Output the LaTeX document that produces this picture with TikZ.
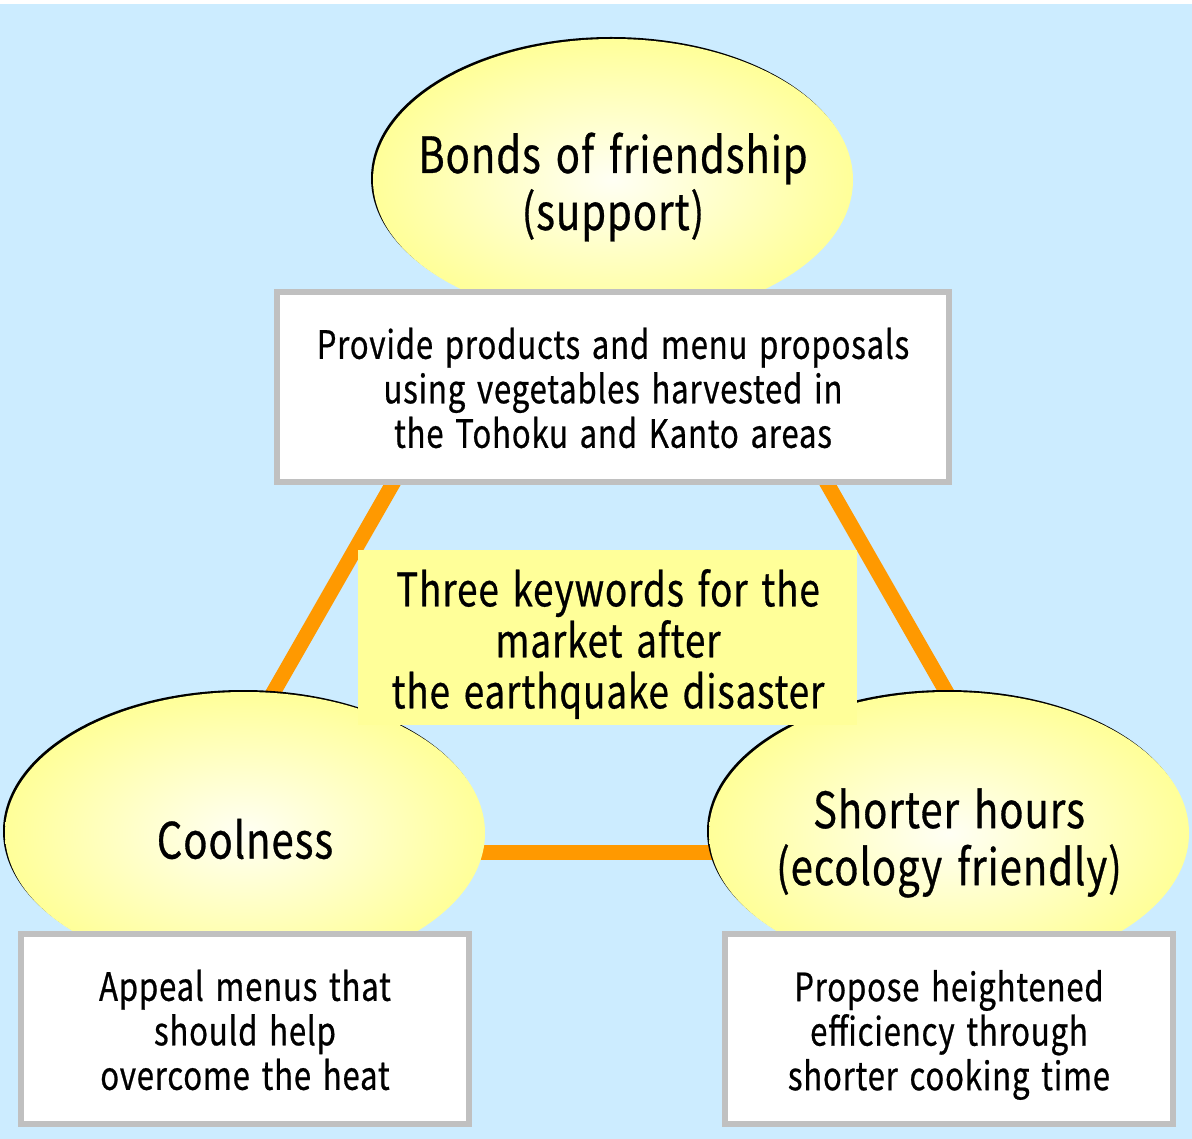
\documentclass[tikz,border=0pt]{standalone}
\usepackage{fontspec}
\setmainfont{Noto Sans CJK JP}[FakeStretch=0.8, LetterSpace=2, WordSpace=1.5, FakeBold=0.6]
\usetikzlibrary{shapes.geometric}
\definecolor{skyback}{HTML}{CCECFF}
\definecolor{keyyellow}{HTML}{FFFF99}
\definecolor{keycore}{HTML}{FFFFF4}
\definecolor{linkorange}{HTML}{FF9900}
\definecolor{boxgray}{HTML}{C0C0C0}
\tikzset{
  keyword/.style={ellipse, inner sep=0pt, minimum width=480pt, minimum height=282pt,
    shading=radial, inner color=keycore, outer color=keyyellow},
  keyshadow/.style={ellipse, inner sep=0pt, minimum width=480pt, minimum height=282pt,
    fill=black},
  keytext/.style={align=center, inner sep=0pt, font=\fontsize{50}{57}\selectfont},
  notebox/.style={rectangle, draw=boxgray, line width=6pt, fill=white, inner sep=0pt,
    minimum height=190pt},
  notetext/.style={align=center, inner sep=0pt, font=\fontsize{39}{44.5}\selectfont},
  link/.style={draw=linkorange, line width=15pt},
  centrebox/.style={rectangle, fill=keyyellow, inner sep=0pt,
    minimum width=499pt, minimum height=175pt},
  centretext/.style={align=center, inner sep=0pt, font=\fontsize{46}{51}\selectfont}
}
\begin{document}
\begin{tikzpicture}[x=1pt,y=-1pt]
  \useasboundingbox (0,0) rectangle (1192,1139);
  \fill[white] (0,0) rectangle (1192,1139);
  \fill[skyback] (0,4) rectangle (1192,1139);

  % triangle joining the three keywords
  \coordinate (apex) at (610,104);
  \coordinate (baseL) at (182,852);
  \coordinate (baseR) at (1038,852);
  \draw[link] (apex) -- (baseL);
  \draw[link] (apex) -- (baseR);
  \draw[link] (baseL) -- (baseR);

  % keyword ellipses with a thin dark edge on the upper left
  \node[keyshadow] (bondsshadow) at (611,178) {};
  \node[keyword] (bonds) at (613,180) {};
  \node[keytext] (bondslabel) at (613,187) {Bonds of friendship\\(support)};
  \node[keyshadow] (coolshadow) at (243,831) {};
  \node[keyword] (cool) at (245,833) {};
  \node[keytext] (coollabel) at (245,839) {Coolness};
  \node[keyshadow] (shortshadow) at (947,831) {};
  \node[keyword] (short) at (949,833) {};
  \node[keytext] (shortlabel) at (949,843) {Shorter hours\\(ecology friendly)};

  % explanation boxes
  \node[notebox, minimum width=672pt] (bondsnote) at (613,387) {};
  \node[notetext] (bondsnotetext) at (613,388)
    {Provide products and menu proposals\\using vegetables harvested in\\the Tohoku and Kanto areas};
  \node[notebox, minimum width=448pt] (coolnote) at (245,1029) {};
  \node[notetext] (coolnotetext) at (245,1030)
    {Appeal menus that\\should help\\overcome the heat};
  \node[notebox, minimum width=448pt] (shortnote) at (949,1029) {};
  \node[notetext] (shortnotetext) at (949,1035)
    {Propose heightened\\efficiency through\\shorter cooking time};

  % central label
  \node[centrebox] (centre) at (607.5,637.5) {};
  \node[centretext] (centrelabel) at (608,644)
    {Three keywords for the\\market after\\the earthquake disaster};
\end{tikzpicture}
\end{document}
